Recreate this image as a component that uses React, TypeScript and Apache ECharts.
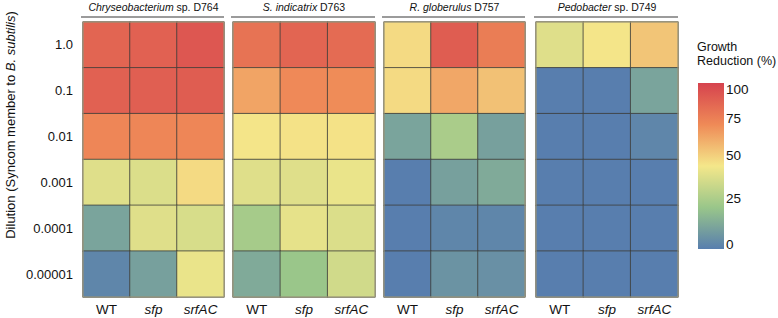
import React, { useEffect, useRef } from "react";
import * as echarts from "echarts";

// ---- data ----
const dilutions = ["1.0", "0.1", "0.01", "0.001", "0.0001", "0.00001"];
const strains = ["WT", "sfp", "srfAC"];
const panelTitles = [
  "{i|Chryseobacterium} sp. D764",
  "{i|S. indicatrix} D763",
  "{i|R. globerulus} D757",
  "{i|Pedobacter} sp. D749",
];
// rows: dilution 1.0 → 0.00001 ; columns: WT, sfp, srfAC  (growth reduction %)
const chryseobacterium = [
  [88, 90, 95],
  [90, 91, 92],
  [72, 72, 72],
  [38, 37, 47],
  [9, 38, 36],
  [1, 8, 41],
];
const indicatrix = [
  [81, 88, 85],
  [63, 71, 70],
  [44, 45, 45],
  [38, 38, 41],
  [23, 40, 37],
  [11, 20, 34],
];
const globerulus = [
  [47, 92, 76],
  [47, 62, 54],
  [9, 24, 8],
  [0, 8, 11],
  [0, 1, 1],
  [0, 4, 3],
];
const pedobacter = [
  [38, 44, 53],
  [0, 0, 9],
  [0, 0, 1],
  [0, 0, 0],
  [0, 0, 0],
  [0, 0, 0],
];
const panels = [chryseobacterium, indicatrix, globerulus, pedobacter];
const legendTicks = [0, 25, 50, 75, 100];

// ---- layout / style ----
const FONT = "'Liberation Sans', Arial, Helvetica, sans-serif";
const gridLefts = [83, 233, 384, 536];
const gridWidths = [141, 142, 141, 142];
const gridTop = 22;
const gridHeight = 275;
// colourbar
const barX = 698;
const barTop = 83;
const barH = 166;
const barW = 26;
// label y-position of legend ticks (0,25,50,75,100)
const tickY = [244, 198, 155, 118, 89];
// gradient colours top → bottom
const gradColors = ["#d6434e", "#ef8a57", "#f4e78a", "#99c68a", "#587eae"];

function hexToRgb(h: string) {
  const n = parseInt(h.slice(1), 16);
  return [(n >> 16) & 255, (n >> 8) & 255, n & 255];
}
function gradAt(t: number) {
  const tt = Math.max(0, Math.min(1, t)) * (gradColors.length - 1);
  const i = Math.min(gradColors.length - 2, Math.floor(tt));
  const f = tt - i;
  const a = hexToRgb(gradColors[i]);
  const b = hexToRgb(gradColors[i + 1]);
  const c = a.map((v, k) => Math.round(v + (b[k] - v) * f));
  return `rgb(${c[0]},${c[1]},${c[2]})`;
}
function yOfValue(v: number) {
  if (v <= 0) return barTop + barH;
  for (let i = 0; i < legendTicks.length - 1; i++) {
    if (v <= legendTicks[i + 1]) {
      const f = (v - legendTicks[i]) / (legendTicks[i + 1] - legendTicks[i]);
      return tickY[i] + (tickY[i + 1] - tickY[i]) * f;
    }
  }
  return tickY[tickY.length - 1];
}
const colorSteps: string[] = [];
for (let v = 0; v <= 100; v += 2) {
  colorSteps.push(gradAt((yOfValue(v) - barTop) / barH));
}

export default function App() {
  const ref = useRef<HTMLDivElement>(null);
  useEffect(() => {
    document.body.style.margin = "0";
    if (!ref.current) return;
    const chart = echarts.init(ref.current, null, { renderer: "svg" });

    const grids = gridLefts.map((l, i) => ({
      left: l,
      top: gridTop,
      width: gridWidths[i],
      height: gridHeight,
      show: false,
    }));
    const xAxes = gridLefts.map((_, i) => ({
      type: "category",
      gridIndex: i,
      data: strains,
      axisLine: { show: false },
      axisTick: { show: false },
      splitLine: { show: false },
      axisLabel: {
        interval: 0,
        margin: 5,
        fontSize: 13.5,
        color: "#111",
        fontFamily: FONT,
        formatter: (v: string) => (v === "WT" ? v : `{i|${v}}`),
        rich: { i: { fontStyle: "italic", fontSize: 13.5, color: "#111", fontFamily: FONT } },
      },
    }));
    const yAxes = gridLefts.map((_, i) => ({
      type: "category",
      gridIndex: i,
      data: dilutions,
      inverse: true,
      axisLine: { show: false },
      axisTick: { show: false },
      splitLine: { show: false },
      axisLabel: {
        show: i === 0,
        interval: 0,
        margin: 10,
        fontSize: 13,
        color: "#111",
        fontFamily: FONT,
      },
    }));
    const series = panels.map((rows, p) => ({
      type: "heatmap",
      xAxisIndex: p,
      yAxisIndex: p,
      data: rows.flatMap((row, r) => row.map((v, c) => [c, r, v])),
      itemStyle: { borderColor: "#3d3d3a", borderWidth: 0.8 },
      emphasis: { disabled: true },
    }));

    const graphics: any[] = [];
    gridLefts.forEach((l, i) => {
      const w = gridWidths[i];
      graphics.push({
        type: "text",
        x: l + w / 2,
        y: 7,
        style: {
          text: panelTitles[i],
          align: "center",
          verticalAlign: "middle",
          fontSize: 10.5,
          fontFamily: FONT,
          fill: "#111",
          rich: { i: { fontStyle: "italic", fontSize: 10.5, fontFamily: FONT, fill: "#111" } },
        },
      });
      graphics.push({
        type: "line",
        shape: { x1: l - 2, y1: 17, x2: l + w, y2: 17 },
        style: { stroke: "#7a7a7a", lineWidth: 1.5 },
      });
      graphics.push({
        type: "rect",
        z: 100,
        shape: { x: l, y: gridTop, width: w, height: gridHeight },
        style: { fill: "none", stroke: "#a8a283", lineWidth: 1 },
      });
    });
    // y axis title
    graphics.push({
      type: "text",
      x: 10,
      y: 125,
      rotation: Math.PI / 2,
      style: {
        text: "Dilution (Syncom member to {i|B. subtilis})",
        align: "center",
        verticalAlign: "middle",
        fontSize: 13,
        fontFamily: FONT,
        fill: "#111",
        rich: { i: { fontStyle: "italic", fontSize: 13, fontFamily: FONT, fill: "#111" } },
      },
    });
    // legend
    graphics.push({
      type: "text",
      x: barX - 1,
      y: 47,
      style: { text: "Growth", fontSize: 12.5, fontFamily: FONT, fill: "#111", verticalAlign: "middle" },
    });
    graphics.push({
      type: "text",
      x: barX - 1,
      y: 61,
      style: { text: "Reduction (%)", fontSize: 12.5, fontFamily: FONT, fill: "#111", verticalAlign: "middle" },
    });
    graphics.push({
      type: "rect",
      shape: { x: barX, y: barTop, width: barW, height: barH },
      style: {
        fill: new echarts.graphic.LinearGradient(
          0,
          0,
          0,
          1,
          gradColors.map((c, k) => ({ offset: k / (gradColors.length - 1), color: c }))
        ),
      },
    });
    legendTicks.forEach((t, k) => {
      graphics.push({
        type: "text",
        x: barX + barW + 2,
        y: tickY[k],
        style: { text: String(t), fontSize: 13.5, fontFamily: FONT, fill: "#111", verticalAlign: "middle" },
      });
    });

    chart.setOption({
      animation: false,
      backgroundColor: "#fff",
      grid: grids,
      xAxis: xAxes,
      yAxis: yAxes,
      visualMap: {
        type: "continuous",
        show: false,
        min: 0,
        max: 100,
        seriesIndex: [0, 1, 2, 3],
        inRange: { color: colorSteps },
      },
      series,
      graphic: graphics,
    } as any);
    return () => chart.dispose();
  }, []);
  return <div ref={ref} style={{ width: 778, height: 318 }} />;
}
